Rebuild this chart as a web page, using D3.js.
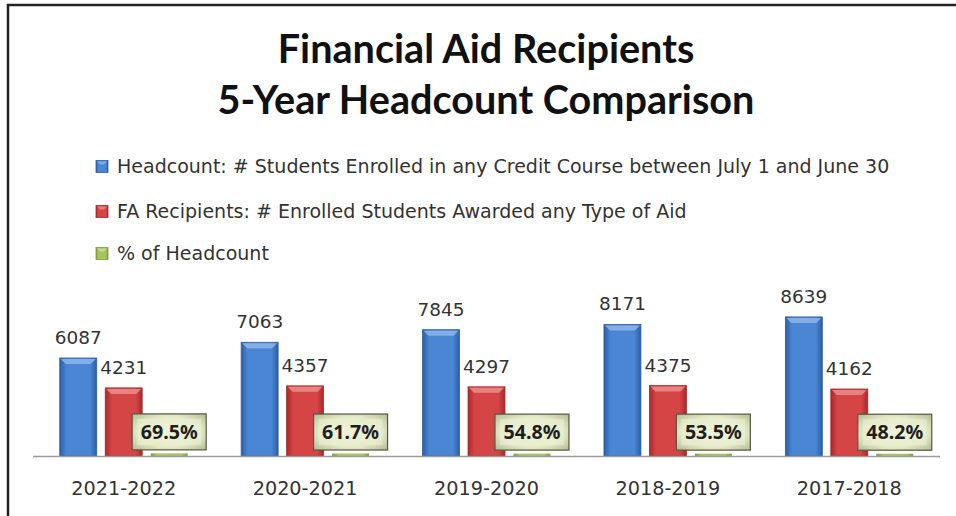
<!DOCTYPE html>
<html>
<head>
<meta charset="utf-8">
<script src="https://cdn.jsdelivr.net/npm/d3@7"></script>
<style>
  body { margin: 0; background: #fff; }
</style>
</head>
<body>
<div id="chart"></div>
<script>
// Chart data
const categories = ['2021-2022', '2020-2021', '2019-2020', '2018-2019', '2017-2018'];
const headcount = [6087, 7063, 7845, 8171, 8639];
const recipients = [4231, 4357, 4297, 4375, 4162];
const pctHeadcount = [69.5, 61.7, 54.8, 53.5, 48.2];
const seriesNames = [
  'Headcount: # Students Enrolled in any Credit Course between July 1 and June 30',
  'FA Recipients: # Enrolled Students Awarded any Type of Aid',
  '% of Headcount'
];
const titleLines = ['Financial Aid Recipients', '5-Year Headcount Comparison'];

// Size
const width = 956;
const height = 516;
const axisY = 456;

const svg = d3.select('#chart')
  .append('svg')
  .attr('width', width)
  .attr('height', height);

// Gradients for the bevelled bars
const defs = svg.append('defs');
const barColors = [
  { id: 'blue', edge: '#2c5ea6', mid: '#4a86d3', top: '#8db5ea' },
  { id: 'red', edge: '#a8292a', mid: '#d64546', top: '#eb8d8c' },
  { id: 'green', edge: '#7f9c40', mid: '#a6c462', top: '#cfe09c' }
];
barColors.forEach(c => {
  const g = defs.append('linearGradient').attr('id', 'grad-' + c.id)
    .attr('x1', 0).attr('x2', 1).attr('y1', 0).attr('y2', 0);
  g.append('stop').attr('offset', '0%').attr('stop-color', c.edge);
  g.append('stop').attr('offset', '18%').attr('stop-color', c.mid);
  g.append('stop').attr('offset', '82%').attr('stop-color', c.mid);
  g.append('stop').attr('offset', '100%').attr('stop-color', c.edge);
});
const boxGrad = defs.append('radialGradient').attr('id', 'grad-box')
  .attr('cx', '50%').attr('cy', '50%').attr('r', '75%');
boxGrad.append('stop').attr('offset', '0%').attr('stop-color', '#f4f6e4');
boxGrad.append('stop').attr('offset', '55%').attr('stop-color', '#e6ebc9');
boxGrad.append('stop').attr('offset', '100%').attr('stop-color', '#a9b28a');

// Frame (runs off the right and bottom edge like the screenshot)
svg.append('rect')
  .attr('x', 8).attr('y', 5)
  .attr('width', 1000).attr('height', 600)
  .attr('fill', 'none')
  .attr('stroke', '#222')
  .attr('stroke-width', 2.5);

// Helper: scale a text's font-size so it gets the wanted width
function fitText(sel, target) {
  const w = sel.node().getComputedTextLength();
  const fs = parseFloat(sel.attr('font-size'));
  const size = fs * target / w;
  sel.attr('font-size', size);
  return size;
}

// Title
const t1 = svg.append('text')
  .attr('x', 486).attr('y', 63)
  .attr('text-anchor', 'middle')
  .attr('font-family', 'Lato, "Open Sans", sans-serif')
  .attr('font-weight', 'bold')
  .attr('font-size', 34)
  .attr('fill', '#111')
  .text(titleLines[0]);
const t2 = svg.append('text')
  .attr('x', 486).attr('y', 114)
  .attr('text-anchor', 'middle')
  .attr('font-family', 'Lato, "Open Sans", sans-serif')
  .attr('font-weight', 'bold')
  .attr('font-size', 34)
  .attr('fill', '#111')
  .text(titleLines[1]);
const titleSize = fitText(t2, 537);
t1.attr('font-size', titleSize);

// Legend
const legendFont = 'Tahoma, "DejaVu Sans", sans-serif';
const legend = svg.append('g').attr('transform', 'translate(96,0)');
const legendRows = [167, 212, 254];
let legendSize = 17;
seriesNames.forEach((name, i) => {
  const row = legend.append('g').attr('transform', `translate(0,${legendRows[i]})`);
  row.append('rect')
    .attr('x', 0).attr('y', -6.5)
    .attr('width', 12).attr('height', 12)
    .attr('fill', `url(#grad-${barColors[i].id})`)
    .attr('stroke', barColors[i].edge)
    .attr('stroke-width', 0.8);
  row.append('path')
    .attr('d', 'M1,-5.5L11,-5.5L8,-2.5L4,-2.5Z')
    .attr('fill', barColors[i].top)
    .attr('opacity', 0.8);
  const txt = row.append('text')
    .attr('x', 21).attr('y', 6)
    .attr('font-family', legendFont)
    .attr('font-size', legendSize)
    .attr('fill', '#333')
    .text(name);
  if (i === 0) legendSize = fitText(txt, 773);
  else txt.attr('font-size', legendSize);
});

// Scales
const x0 = d3.scaleBand()
  .domain(categories)
  .range([33, 940])
  .paddingInner(0.295)
  .paddingOuter(0.1475);

const keys = ['headcount', 'recipients', 'pct'];
const x1 = d3.scaleBand()
  .domain(keys)
  .range([0, x0.bandwidth()])
  .paddingInner(0.187);

const y = d3.scaleLinear()
  .domain([0, 10000])
  .range([axisY, axisY - 161]);

const rows = categories.map((c, i) => ({
  category: c,
  values: [
    { key: 'headcount', value: headcount[i], color: barColors[0] },
    { key: 'recipients', value: recipients[i], color: barColors[1] },
    { key: 'pct', value: pctHeadcount[i], color: barColors[2] }
  ]
}));

// Groups
const groups = svg.selectAll('g.group')
  .data(rows)
  .enter()
  .append('g')
  .attr('class', 'group')
  .attr('transform', d => `translate(${x0(d.category)},0)`);

// Bars
const bars = groups.selectAll('g.bar')
  .data(d => d.values)
  .enter()
  .append('g')
  .attr('class', 'bar');

bars.append('rect')
  .attr('x', d => x1(d.key))
  .attr('y', d => y(d.value) - (d.key === 'pct' ? 1.5 : 0))
  .attr('width', x1.bandwidth())
  .attr('height', d => axisY - y(d.value) + (d.key === 'pct' ? 1.5 : 0))
  .attr('fill', d => `url(#grad-${d.color.id})`)
  .attr('stroke', d => d.key === 'pct' ? 'none' : d.color.edge)
  .attr('stroke-width', 0.8);

// Bevel highlight along the top of the count bars
bars.filter(d => d.key !== 'pct')
  .append('path')
  .attr('d', d => {
    const xa = x1(d.key);
    const w = x1.bandwidth();
    const top = y(d.value);
    return `M${xa + 1},${top + 1}L${xa + w - 1},${top + 1}L${xa + w - 6},${top + 6}L${xa + 6},${top + 6}Z`;
  })
  .attr('fill', d => d.color.top)
  .attr('opacity', 0.85);

// Value labels for the count bars
const numFont = '"DejaVu Sans", sans-serif';
const countLabels = bars.filter(d => d.key !== 'pct')
  .append('text')
  .attr('x', d => x1(d.key) + x1.bandwidth() / 2)
  .attr('y', d => y(d.value) - 14)
  .attr('text-anchor', 'middle')
  .attr('font-family', numFont)
  .attr('font-size', 17)
  .attr('fill', '#333')
  .text(d => d3.format('d')(d.value));
const numSize = fitText(d3.select(countLabels.node()), 47);
countLabels.attr('font-size', numSize);

// Percentage labels inside bevelled boxes
const pctBars = bars.filter(d => d.key === 'pct');
const boxW = 74;
const boxH = 36;
pctBars.append('rect')
  .attr('x', d => x1(d.key) + x1.bandwidth() / 2 - boxW / 2)
  .attr('y', d => y(d.value) - 5 - boxH)
  .attr('width', boxW)
  .attr('height', boxH)
  .attr('fill', 'url(#grad-box)')
  .attr('stroke', '#55583f')
  .attr('stroke-width', 1.2);
pctBars.append('rect')
  .attr('x', d => x1(d.key) + x1.bandwidth() / 2 - boxW / 2 + 5)
  .attr('y', d => y(d.value) - 5 - boxH + 5)
  .attr('width', boxW - 10)
  .attr('height', boxH - 10)
  .attr('fill', '#e9eed0')
  .attr('opacity', 0.6);
const pctLabels = pctBars.append('text')
  .attr('x', d => x1(d.key) + x1.bandwidth() / 2)
  .attr('y', d => y(d.value) - 16)
  .attr('text-anchor', 'middle')
  .attr('font-family', '"Noto Sans", "Open Sans", sans-serif')
  .attr('font-weight', 'bold')
  .attr('font-size', 17)
  .attr('fill', '#1e1e1e')
  .text(d => d.value.toFixed(1) + '%');
const pctSize = fitText(d3.select(pctLabels.node()), 57);
pctLabels.attr('font-size', pctSize);

// X axis
const xAxis = svg.append('g')
  .attr('transform', `translate(0,${axisY})`)
  .call(d3.axisBottom(x0).tickSize(0).tickPadding(0));
xAxis.select('.domain')
  .attr('d', `M33,0.5H940`)
  .attr('stroke', '#9a9a9a')
  .attr('stroke-width', 1.5);
const ticks = xAxis.selectAll('text')
  .attr('y', 39)
  .attr('dy', 0)
  .attr('font-family', numFont)
  .attr('font-size', 17)
  .attr('fill', '#333');
const catSize = fitText(d3.select(ticks.node()), 105);
ticks.attr('font-size', catSize);
</script>
</body>
</html>
